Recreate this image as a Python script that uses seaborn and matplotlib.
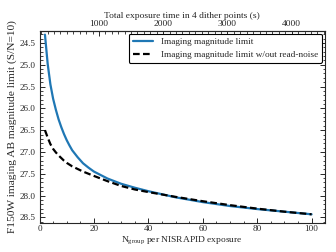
# F150W imaging magnitude limit vs Ngroup
import pandas as pd
import seaborn as sns
import matplotlib.pyplot as plt
from matplotlib.ticker import AutoMinorLocator, MultipleLocator

ngroup = [2, 3, 4, 5, 6, 7, 8, 9, 10, 11, 12, 14, 16, 18, 20, 25, 30, 35, 40, 50, 60, 70, 80, 90, 100]
mag_limit = [24.31, 24.98, 25.45, 25.78, 26.03, 26.25, 26.43, 26.59, 26.73, 26.85, 26.96,
             27.12, 27.26, 27.36, 27.45, 27.61, 27.73, 27.82, 27.9, 28.04, 28.15, 28.24,
             28.31, 28.37, 28.43]
mag_limit_norn = [26.5, 26.67, 26.82, 26.93, 27.01, 27.08, 27.14, 27.2, 27.25, 27.29, 27.33,
                  27.39, 27.45, 27.5, 27.55, 27.67, 27.78, 27.86, 27.92, 28.03, 28.13, 28.22,
                  28.3, 28.37, 28.43]
label_rn = 'Imaging magnitude limit'
label_norn = 'Imaging magnitude limit w/out read-noise'

sns.set_style('ticks')
plt.rcParams['font.family'] = ['Liberation Serif', 'DejaVu Serif']
plt.rcParams['mathtext.fontset'] = 'custom'
plt.rcParams['mathtext.rm'] = 'Liberation Serif'

df = pd.DataFrame({'N': ngroup, 'rn': mag_limit, 'norn': mag_limit_norn})

fig = plt.figure(figsize=(3.36, 2.52), dpi=100)
ax = fig.add_axes([0.1176, 0.115, 0.8494, 0.763])
sns.lineplot(x='N', y='rn', data=df, color='#1f77b4', lw=1.6, label=label_rn, ax=ax)
sns.lineplot(x='N', y='norn', data=df, color='black', lw=1.6, label=label_norn, ax=ax)
ax.lines[1].set_linestyle((0, (3, 1.5)))

ax.set_xlim(0, 104.9)
ax.set_ylim(28.63, 24.22)
ax.set_xticks([0, 20, 40, 60, 80, 100])
ax.set_yticks([24.5, 25.0, 25.5, 26.0, 26.5, 27.0, 27.5, 28.0, 28.5])
ax.xaxis.set_minor_locator(AutoMinorLocator(4))
ax.yaxis.set_minor_locator(AutoMinorLocator(5))
ax.tick_params(which='both', direction='in', right=True, labelsize=6.6)
ax.tick_params(axis='x', pad=1.5)
ax.tick_params(axis='y', pad=3)
ax.tick_params(which='major', length=3.5, width=0.7)
ax.tick_params(which='minor', length=1.8, width=0.6)
for s in ax.spines.values():
    s.set_linewidth(0.8)
ax.set_xlabel(r'N$_{\rm group}$ per NISRAPID exposure', fontsize=6.8, labelpad=1)
ax.set_ylabel('F150W imaging AB magnitude limit (S/N=10)', fontsize=8.2, labelpad=2)

top = ax.secondary_xaxis('top', functions=(lambda n: 42.35 * n + 75,
                                           lambda t: (t - 75) / 42.35))
top.set_xticks([1000, 2000, 3000, 4000])
top.xaxis.set_minor_locator(MultipleLocator(100))
top.tick_params(which='both', direction='in', labelsize=6.8, pad=2)
top.tick_params(which='major', length=3.5, width=0.7)
top.tick_params(which='minor', length=1.8, width=0.6)
top.set_xlabel('Total exposure time in 4 dither points (s)', fontsize=6.8, labelpad=1.5)

leg = ax.legend(loc='upper right', fontsize=6.7, frameon=True, fancybox=True,
                edgecolor='black', framealpha=1, handlelength=2.2, borderaxespad=0.3,
                borderpad=0.45, labelspacing=0.45)
leg.get_frame().set_linewidth(0.8)

plt.savefig('out.png', dpi=100)
